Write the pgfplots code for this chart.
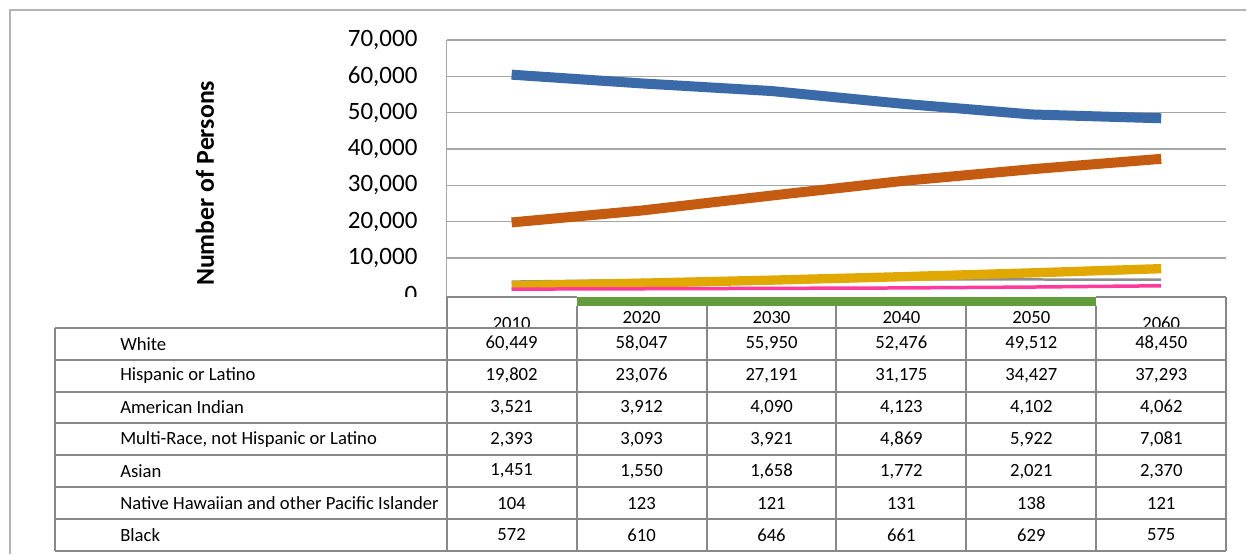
\documentclass[border=0pt]{standalone}
\usepackage{pgfplots}
\pgfplotsset{compat=1.18}
\usepackage{pgfplotstable}
\usepackage{fontspec}
\setmainfont{Carlito}

\definecolor{cwhite}{HTML}{3A6AA8}
\definecolor{chisp}{HTML}{C55A11}
\definecolor{cmulti}{HTML}{E0A800}
\definecolor{camind}{HTML}{8E8E8E}
\definecolor{casian}{HTML}{FF3A9C}
\definecolor{cgreen}{HTML}{629C3C}
\definecolor{cgrid}{HTML}{A6A6A6}
\definecolor{ctab}{HTML}{888888}
\definecolor{cframe}{HTML}{B4B4B4}

\pgfplotstableread{
idx year white hisp amind multi asian nhpi black
0 2010 60449 19802 3521 2393 1451 104 572
1 2020 58047 23076 3912 3093 1550 123 610
2 2030 55950 27191 4090 3921 1658 121 646
3 2040 52476 31175 4123 4869 1772 131 661
4 2050 49512 34427 4102 5922 2021 138 629
5 2060 48450 37293 4062 7081 2370 121 575
}\popdata

\begin{document}
\begin{tikzpicture}
\fill[white] (0,0) rectangle (748.2pt,332.4pt);
\begin{axis}[
  at={(268.2pt,154.2pt)}, anchor=south west,
  width=468pt, height=154.2pt, scale only axis,
  xmin=-0.5, xmax=5.5, ymin=-660, ymax=70000,
  axis x line=none, axis y line*=left,
  axis line style={color=cgrid, line width=0.8pt},
  ytick={10000,20000,...,70000},
  extra y ticks={0}, extra y tick style={grid=none},
  ymajorgrids, grid style={color=cgrid, line width=0.8pt},
  major tick length=0pt,
  /pgf/number format/assume math mode=true,
  /pgf/number format/1000 sep={,},
  scaled y ticks=false,
  yticklabel style={font=\fontsize{15}{15}\selectfont, inner sep=0pt, xshift=-17.4pt},
  line join=round,
]
\addplot[camind, line width=1.5pt] table[x=idx, y=amind] {\popdata};
\addplot[cmulti, line width=5.6pt] table[x=idx, y=multi] {\popdata};
\addplot[casian, line width=2.1pt] table[x=idx, y=asian] {\popdata};
\addplot[chisp, line width=6pt] table[x=idx, y=hisp] {\popdata};
\addplot[cwhite, line width=6pt] table[x=idx, y=white] {\popdata};
\end{axis}
\node[rotate=90, font=\fontsize{15.5}{15.5}\selectfont\bfseries] at (123pt,222.3pt) {Number of Persons};

\begin{scope}[shift={(0pt,332.4pt)}, x=0.6pt, y=-0.6pt]
  % frame
  \draw[cframe, line width=1pt] (10,554) -- (10,10) -- (1247,10);
  % header labels
  \begin{scope}[font=\fontsize{11.2}{11.2}\selectfont]
    \node at (512,323.5) {2010};
    \node at (642,318) {2020};
    \node at (772,318) {2030};
    \node at (902,318) {2040};
    \node at (1032,318) {2050};
    \node at (1162,323.5) {2060};
  \end{scope}
  % cover
  \fill[white] (330,297.6) rectangle (446.4,327.5);
  \fill[white] (55,328) rectangle (1227,551);
  \fill[cgreen] (577,297) rectangle (1097,306);
  % grid
  \begin{scope}[ctab, line width=1.2pt]
    \foreach \yy in {328,360,392,423.5,455,487,519,551}
      \draw (55,\yy) -- (1227,\yy);
    \draw (55,328) -- (55,551);
    \draw (447,297) -- (447,551);
    \draw (1227,297) -- (1227,551);
    \foreach \xx in {577,707,837,967,1097}
      \draw (\xx,306) -- (\xx,551);
    \draw (447,297) -- (577,297);
    \draw (1097,297) -- (1227,297);
  \end{scope}
  % table text
  \begin{scope}[font=\fontsize{11.2}{11.2}\selectfont]
    \foreach \lab [count=\i] in {White,Hispanic or Latino,American Indian,{Multi-Race, not Hispanic or Latino},Asian,Native Hawaiian and other Pacific Islander,Black}
      \node[anchor=west, inner sep=0pt] at (120,{312+\i*31.9}) {\lab};
    \foreach \a/\b/\c/\d/\e/\f [count=\i] in {
      60{,}449/58{,}047/55{,}950/52{,}476/49{,}512/48{,}450,
      19{,}802/23{,}076/27{,}191/31{,}175/34{,}427/37{,}293,
      3{,}521/3{,}912/4{,}090/4{,}123/4{,}102/4{,}062,
      2{,}393/3{,}093/3{,}921/4{,}869/5{,}922/7{,}081,
      1{,}451/1{,}550/1{,}658/1{,}772/2{,}021/2{,}370,
      104/123/121/131/138/121,
      572/610/646/661/629/575}
    {
      \node at (512,{312+\i*31.9}) {\a};
      \node at (642,{312+\i*31.9}) {\b};
      \node at (772,{312+\i*31.9}) {\c};
      \node at (902,{312+\i*31.9}) {\d};
      \node at (1032,{312+\i*31.9}) {\e};
      \node at (1162,{312+\i*31.9}) {\f};
    }
  \end{scope}
\end{scope}
\end{tikzpicture}
\end{document}
